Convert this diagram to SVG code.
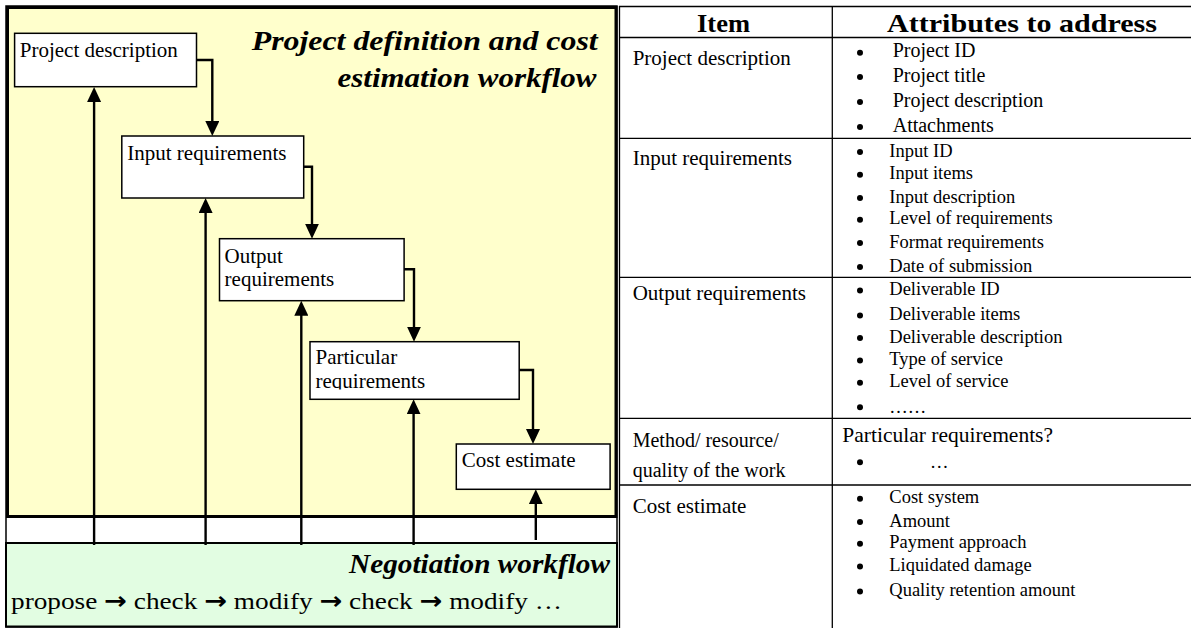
<svg xmlns="http://www.w3.org/2000/svg" width="1191" height="628" viewBox="0 0 1191 628">
<style>
text{font-family:"Liberation Serif","Times New Roman",serif;fill:#000}
.lbl{font-size:21px}
.ttl{font-size:28px;font-weight:bold;font-style:italic}
.hdr{font-size:25px;font-weight:bold}
.l1{font-size:20px}
.l2{font-size:18.5px}
.arr{font-family:"DejaVu Sans",sans-serif;font-weight:bold}
.box{fill:#fff;stroke:#000;stroke-width:1.5}
.con{fill:none;stroke:#000;stroke-width:2.4}
.tl{stroke:#000;stroke-width:1.3}
.dot{fill:#000}
</style>
<defs>
<marker id="ah" markerUnits="userSpaceOnUse" markerWidth="16" markerHeight="14" refX="5" refY="7" orient="auto">
<path d="M0,0 L15,7 L0,14 z" fill="#000"/>
</marker>
<clipPath id="clipP"><rect x="300" y="330" width="230" height="59.5"/></clipPath>
</defs>
<rect width="1191" height="628" fill="#fff"/>

<g id="frame">
<rect x="6" y="6" width="611" height="621" fill="#fff" stroke="#000" stroke-width="1.5"/>
<rect id="yellow" x="7.5" y="7.5" width="608.5" height="509" fill="#FFFFCC" stroke="#000" stroke-width="3"/>
<text class="ttl" x="251.7" y="50" textLength="346" lengthAdjust="spacingAndGlyphs">Project definition and cost</text>
<text class="ttl" x="337.5" y="87" textLength="259" lengthAdjust="spacingAndGlyphs">estimation workflow</text>
</g>

<g id="negotiation">
<rect x="6" y="543" width="611" height="83.5" fill="#E2FDE2" stroke="#000" stroke-width="2"/>
<text class="ttl" x="349" y="573" textLength="261" lengthAdjust="spacingAndGlyphs">Negotiation workflow</text>
<text x="11" y="609" font-size="24" textLength="551" lengthAdjust="spacingAndGlyphs">propose <tspan class="arr">→</tspan> check <tspan class="arr">→</tspan> modify <tspan class="arr">→</tspan> check <tspan class="arr">→</tspan> modify …</text>
</g>

<g id="n-project">
<rect class="box" x="14.6" y="33.3" width="181.9" height="53.4"/>
<text class="lbl" x="19.8" y="57.3">Project description</text>
</g>
<g id="n-input">
<rect class="box" x="121.8" y="136" width="181.9" height="62"/>
<text class="lbl" x="127.3" y="160">Input requirements</text>
</g>
<g id="n-output">
<rect class="box" x="219.5" y="238.7" width="184.6" height="62"/>
<text class="lbl" x="224.6" y="262.7">Output</text>
<text class="lbl" x="224.6" y="286">requirements</text>
</g>
<g id="n-particular">
<rect class="box" x="310" y="341.7" width="209.2" height="57.6"/>
<text class="lbl" x="315.5" y="364">Particular</text>
<text class="lbl" x="315.5" y="388.3" clip-path="url(#clipP)">requirements</text>
</g>
<g id="n-cost">
<rect class="box" x="456.3" y="444" width="153.8" height="45.3"/>
<text class="lbl" x="461.8" y="467.3">Cost estimate</text>
</g>

<g id="connectors">
<path class="con" d="M196.5,60 H212.3 V126" marker-end="url(#ah)"/>
<path class="con" d="M303.7,166.7 H312 V228.7" marker-end="url(#ah)"/>
<path class="con" d="M404.1,269.3 H414 V331.7" marker-end="url(#ah)"/>
<path class="con" d="M519.2,370 H533 V434" marker-end="url(#ah)"/>
<path class="con" d="M94.1,545 V97" marker-end="url(#ah)"/>
<path class="con" d="M205.6,545 V208" marker-end="url(#ah)"/>
<path class="con" d="M301.3,545 V310.7" marker-end="url(#ah)"/>
<path class="con" d="M413.6,545 V409.3" marker-end="url(#ah)"/>
<path class="con" d="M535.8,540 V499.3" marker-end="url(#ah)"/>
</g>

<g id="table">
<line class="tl" x1="619" y1="6.5" x2="1191" y2="6.5" stroke-width="2.2"/>
<line class="tl" x1="619" y1="37.5" x2="1191" y2="37.5"/>
<line class="tl" x1="619" y1="138.3" x2="1191" y2="138.3"/>
<line class="tl" x1="619" y1="277.3" x2="1191" y2="277.3"/>
<line class="tl" x1="619" y1="418.3" x2="1191" y2="418.3"/>
<line class="tl" x1="619" y1="485" x2="1191" y2="485"/>
<line class="tl" x1="619.5" y1="6" x2="619.5" y2="628"/>
<line class="tl" x1="832.3" y1="6" x2="832.3" y2="628"/>

<text class="hdr" x="697" y="31.7" textLength="53" lengthAdjust="spacingAndGlyphs">Item</text>
<text class="hdr" x="887" y="31.7" textLength="270" lengthAdjust="spacingAndGlyphs">Attributes to address</text>

<text class="lbl" x="632.7" y="65">Project description</text>
<circle class="dot" cx="860" cy="52.7" r="3"/><text class="l1" x="892.7" y="57.3">Project ID</text>
<circle class="dot" cx="860" cy="77.1" r="3"/><text class="l1" x="892.7" y="81.7">Project title</text>
<circle class="dot" cx="860" cy="102.1" r="3"/><text class="l1" x="892.7" y="106.7">Project description</text>
<circle class="dot" cx="860" cy="127.1" r="3"/><text class="l1" x="892.7" y="131.7">Attachments</text>

<text class="lbl" x="632.7" y="165">Input requirements</text>
<circle class="dot" cx="860" cy="152.1" r="3"/><text class="l2" x="889.3" y="156.7">Input ID</text>
<circle class="dot" cx="860" cy="174.7" r="3"/><text class="l2" x="889.3" y="179.3">Input items</text>
<circle class="dot" cx="860" cy="198.1" r="3"/><text class="l2" x="889.3" y="202.7">Input description</text>
<circle class="dot" cx="860" cy="219.7" r="3"/><text class="l2" x="889.3" y="224.3">Level of requirements</text>
<circle class="dot" cx="860" cy="243.1" r="3"/><text class="l2" x="889.3" y="247.7">Format requirements</text>
<circle class="dot" cx="860" cy="267.1" r="3"/><text class="l2" x="889.3" y="271.7">Date of submission</text>

<text class="lbl" x="632.7" y="300">Output requirements</text>
<circle class="dot" cx="860" cy="290.4" r="3"/><text class="l2" x="889.3" y="295">Deliverable ID</text>
<circle class="dot" cx="860" cy="315.4" r="3"/><text class="l2" x="889.3" y="320">Deliverable items</text>
<circle class="dot" cx="860" cy="338.1" r="3"/><text class="l2" x="889.3" y="342.7">Deliverable description</text>
<circle class="dot" cx="860" cy="360.4" r="3"/><text class="l2" x="889.3" y="365">Type of service</text>
<circle class="dot" cx="860" cy="382.7" r="3"/><text class="l2" x="889.3" y="387.3">Level of service</text>
<circle class="dot" cx="860" cy="407.3" r="3"/><text class="l2" x="889.3" y="413.3">……</text>

<text x="632.7" y="446.7" font-size="20">Method/ resource/</text>
<text x="632.7" y="476.7" font-size="20">quality of the work</text>
<text x="842.3" y="441.7" font-size="21.5">Particular requirements?</text>
<circle class="dot" cx="860" cy="462.3" r="3"/><text class="l2" x="930" y="467.7">…</text>

<text class="lbl" x="632.7" y="512.7">Cost estimate</text>
<circle class="dot" cx="860" cy="498.7" r="3"/><text class="l2" x="889.3" y="503.3">Cost system</text>
<circle class="dot" cx="860" cy="522.1" r="3"/><text class="l2" x="889.3" y="526.7">Amount</text>
<circle class="dot" cx="860" cy="543.7" r="3"/><text class="l2" x="889.3" y="548.3">Payment approach</text>
<circle class="dot" cx="860" cy="566.4" r="3"/><text class="l2" x="889.3" y="571">Liquidated damage</text>
<circle class="dot" cx="860" cy="591.4" r="3"/><text class="l2" x="889.3" y="596">Quality retention amount</text>
</g>
</svg>
